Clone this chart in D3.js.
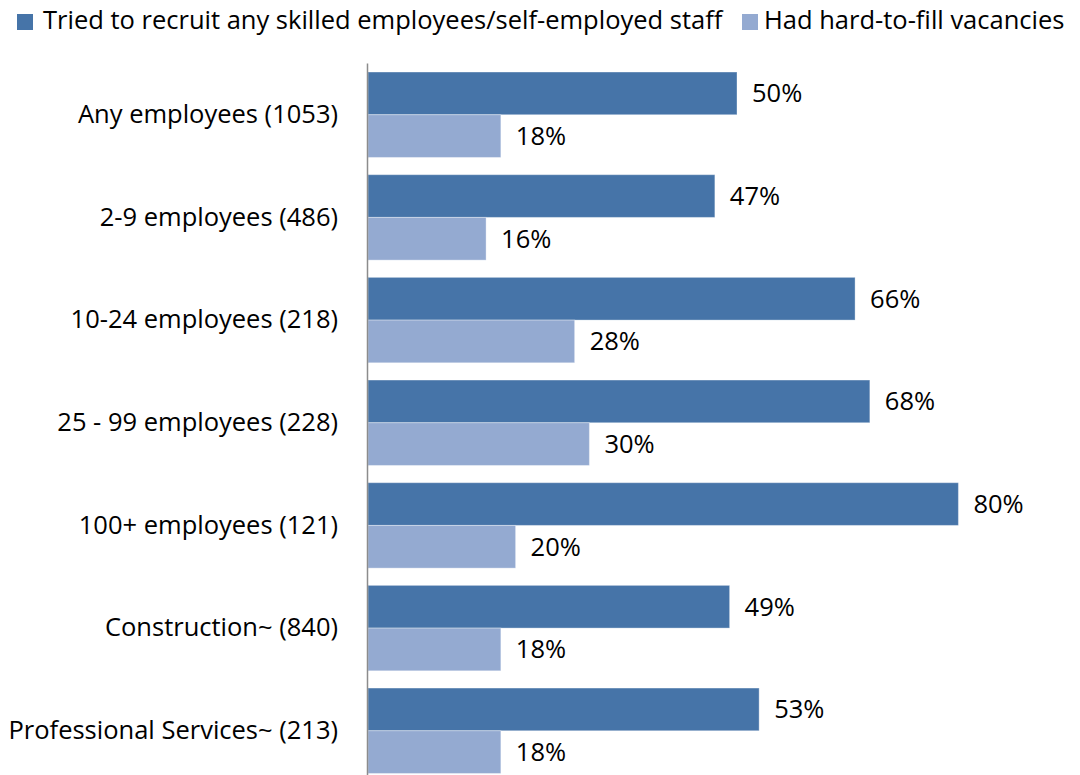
<!DOCTYPE html>
<html>
<head>
<meta charset="utf-8">
<script src="https://cdn.jsdelivr.net/npm/d3@7"></script>
<style>
  html, body { margin: 0; padding: 0; background: #fff; }
  svg text { font-family: "Open Sans", Lato, sans-serif; fill: #000; }
</style>
</head>
<body>
<svg id="chart" width="1080" height="775"></svg>
<script>
// Categories (with sample sizes) and the two series, in percent
const categories = [
  "Any employees (1053)",
  "2-9 employees (486)",
  "10-24 employees (218)",
  "25 - 99 employees (228)",
  "100+ employees (121)",
  "Construction~ (840)",
  "Professional Services~ (213)"
];
const seriesNames = [
  "Tried to recruit any skilled employees/self-employed staff",
  "Had hard-to-fill vacancies"
];
const triedToRecruit = [50, 47, 66, 68, 80, 49, 53];
const hardToFill = [18, 16, 28, 30, 20, 18, 18];
const seriesColors = ["#4674A8", "#94AAD1"];

const svg = d3.select("#chart");
const fontSize = 25.5;
const fontFamily = "'Open Sans', Lato, sans-serif";

const margin = { left: 368, top: 63.4 };
const x = d3.scaleLinear().domain([0, 100]).range([margin.left, margin.left + 738]);
const y = d3.scaleBand()
  .domain(categories)
  .range([margin.top, margin.top + 7 * 102.67])
  .paddingInner(0.168)
  .paddingOuter(0.084);
const ySub = d3.scaleBand().domain([0, 1]).range([0, y.bandwidth()]);

const rows = categories.map((c, i) => ({ cat: c, vals: [triedToRecruit[i], hardToFill[i]] }));

// Bars
const group = svg.append("g").selectAll("g.row").data(rows).join("g")
  .attr("class", "row")
  .attr("transform", d => `translate(0,${y(d.cat)})`);

group.selectAll("rect").data(d => d.vals.map((v, k) => ({ v, k }))).join("rect")
  .attr("x", x(0))
  .attr("y", d => ySub(d.k))
  .attr("width", d => x(d.v) - x(0))
  .attr("height", ySub.bandwidth())
  .attr("fill", d => seriesColors[d.k])
  .attr("stroke", "#ffffff")
  .attr("stroke-opacity", 0.35)
  .attr("stroke-width", 1);

// Value labels
group.selectAll("text.val").data(d => d.vals.map((v, k) => ({ v, k }))).join("text")
  .attr("class", "val")
  .attr("x", d => x(d.v) + 15)
  .attr("y", d => ySub(d.k) + ySub.bandwidth() / 2 + 2)
  .attr("dominant-baseline", "middle")
  .attr("font-size", fontSize)
  .text(d => d.v + "%");

// Category axis
const axis = d3.axisLeft(y).tickSize(0).tickPadding(30);
const axisG = svg.append("g")
  .attr("transform", `translate(${x(0)},0)`)
  .call(axis);
axisG.select(".domain").remove();
axisG.selectAll("text")
  .attr("font-size", fontSize)
  .attr("font-family", fontFamily)
  .attr("fill", "#000");

svg.append("line")
  .attr("x1", x(0) - 0.5).attr("x2", x(0) - 0.5)
  .attr("y1", margin.top).attr("y2", 775)
  .attr("stroke", "#8c8c8c")
  .attr("stroke-width", 1.5);

// Legend
const legendItems = [
  { name: seriesNames[0], color: seriesColors[0], sx: 17, tx: 43 },
  { name: seriesNames[1], color: seriesColors[1], sx: 742, tx: 764 }
];
const lg = svg.append("g").selectAll("g").data(legendItems).join("g");
lg.append("rect")
  .attr("x", d => d.sx).attr("y", 14)
  .attr("width", 16).attr("height", 16)
  .attr("fill", d => d.color);
lg.append("text")
  .attr("x", d => d.tx).attr("y", 22)
  .attr("dominant-baseline", "middle")
  .attr("font-size", fontSize)
  .text(d => d.name);
</script>
</body>
</html>
